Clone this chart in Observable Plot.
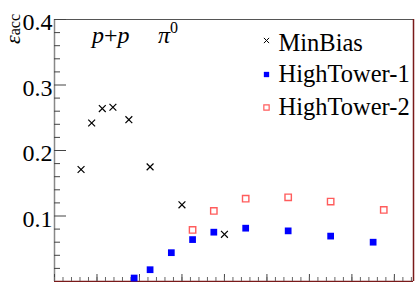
<!DOCTYPE html>
<html>
<head>
<meta charset="utf-8">
<script src="https://cdn.jsdelivr.net/npm/d3@7"></script>
<script src="https://cdn.jsdelivr.net/npm/@observablehq/plot@0.6"></script>
<style>
  html, body { margin: 0; padding: 0; background: #fff; }
  #chart svg { display: block; }
</style>
</head>
<body>
<div id="chart"></div>
<script>
// ---- data (pT bin centres in GeV, acceptance efficiency) ----
const seriesNames = ["MinBias", "HighTower-1", "HighTower-2"];
const ptMinBias = [1.25, 1.75, 2.25, 2.75, 3.5, 4.5, 6, 8];
const effMinBias = [0.171, 0.242, 0.264, 0.266, 0.247, 0.175, 0.117, 0.072];
const ptHT1 = [3.75, 4.5, 5.5, 6.5, 7.5, 9, 11, 13, 15];
const effHT1 = [0.0053, 0.018, 0.044, 0.064, 0.0753, 0.0814, 0.0773, 0.0693, 0.060];
const ptHT2 = [6.5, 7.5, 9, 11, 13, 15.5];
const effHT2 = [0.0788, 0.1078, 0.1265, 0.1286, 0.122, 0.1093];
const yTickLabels = [0.1, 0.2, 0.3, 0.4];
const yMinorTicks = d3.range(0.02, 0.4, 0.02);
const xMajorTicks = d3.range(0, 17, 2);
const xMinorTicks = d3.range(0, 16.9, 0.4);
const xDomain = [0, 16.9];
const yDomain = [0, 0.4];

const mb = ptMinBias.map((x, i) => ({x, y: effMinBias[i]}));
const ht1 = ptHT1.map((x, i) => ({x, y: effHT1[i]}));
const ht2 = ptHT2.map((x, i) => ({x, y: effHT2[i]}));

const serif = "'Liberation Serif', 'DejaVu Serif', serif";
const frameRed = "#7a1a1a";

const legendRows = seriesNames.map((name, i) => ({name, i}));
const legendText = (i, dy) => Plot.text(legendRows.filter(d => d.i === i), {
  frameAnchor: "top-left", lineAnchor: "middle", text: "name", dx: 224, dy,
  textAnchor: "start", fontSize: 24.5, fontFamily: serif, fill: "#000"
});

const svg = Plot.plot({
  width: 415,
  height: 282,
  marginLeft: 54,
  marginTop: 19,
  marginRight: 2,
  marginBottom: 1,
  style: {fontFamily: serif, background: "#fff"},
  x: {domain: xDomain, label: null},
  y: {domain: yDomain, label: null},
  marks: [
    // frame
    Plot.ruleY([yDomain[1]], {stroke: "#555", strokeWidth: 1.2}),
    Plot.ruleY([yDomain[0]], {stroke: frameRed, strokeWidth: 1.5}),
    Plot.ruleX([xDomain[0]], {stroke: "#888", strokeWidth: 1.5}),
    Plot.ruleX([xDomain[1]], {stroke: frameRed, strokeWidth: 1.5}),
    // y axis ticks (inward)
    Plot.axisY({ticks: yTickLabels, tickSize: -12, tickFormat: () => "", stroke: "#444", label: null}),
    Plot.axisY({ticks: yMinorTicks.filter(v => Math.abs(v * 10 - Math.round(v * 10)) > 1e-6), tickSize: -6, tickFormat: () => "", stroke: "#444", label: null}),
    Plot.axisY({ticks: yTickLabels, tickSize: 0, tickPadding: 2, tickFormat: d3.format(".1f"), fontSize: 24, fontFamily: serif, fill: "#000", dy: 3, label: null}),
    // x axis ticks (inward)
    Plot.axisX({ticks: xMajorTicks, tickSize: -7, tickFormat: () => "", stroke: "#444", label: null}),
    Plot.axisX({ticks: xMinorTicks, tickSize: -4, tickFormat: () => "", stroke: "#666", label: null}),
    // data
    Plot.dot(mb, {x: "x", y: "y", symbol: "times", r: 3.2, stroke: "#000", strokeWidth: 1.2}),
    Plot.dot(ht1, {x: "x", y: "y", symbol: "square", r: 3.8, fill: "#0000ff"}),
    Plot.dot(ht2, {x: "x", y: "y", symbol: "square", r: 3.6, fill: "none", stroke: "#ff5c5c", strokeWidth: 1.4}),
    // legend markers
    Plot.dot(legendRows.filter(d => d.i === 0), {frameAnchor: "top-left", dx: 212, dy: 21, symbol: "times", r: 2.5, stroke: "#000", strokeWidth: 1}),
    Plot.dot(legendRows.filter(d => d.i === 1), {frameAnchor: "top-left", dx: 212, dy: 55, symbol: "square", r: 3, fill: "#0000ff"}),
    Plot.dot(legendRows.filter(d => d.i === 2), {frameAnchor: "top-left", dx: 212, dy: 88, symbol: "square", r: 3, fill: "none", stroke: "#ff5c5c", strokeWidth: 1.2}),
    // legend labels
    legendText(0, 24),
    legendText(1, 55),
    legendText(2, 88)
  ]
});

const chart = document.getElementById("chart");
chart.appendChild(svg);
const s = d3.select(svg);

// y-axis title: epsilon_acc
const yl = s.append("text")
  .attr("transform", "translate(20,14) rotate(-90)")
  .attr("text-anchor", "end")
  .attr("font-family", serif)
  .attr("fill", "#000");
yl.append("tspan").attr("font-size", 22).attr("font-style", "italic").text("ε");
yl.append("tspan").attr("font-size", 16).text("acc");

// annotation p+p  pi0
const ann = s.append("text")
  .attr("x", 92).attr("y", 43)
  .attr("text-anchor", "start")
  .attr("font-family", serif)
  .attr("font-size", 24)
  .attr("fill", "#000");
ann.append("tspan").attr("font-style", "italic").text("p");
ann.append("tspan").text("+");
ann.append("tspan").attr("font-style", "italic").text("p");
const ann2 = s.append("text")
  .attr("x", 158).attr("y", 43)
  .attr("text-anchor", "start")
  .attr("font-family", serif)
  .attr("font-size", 24)
  .attr("fill", "#000");
ann2.append("tspan").attr("font-style", "italic").text("π");
ann2.append("tspan").attr("font-size", 16).attr("dy", -10).text("0");
</script>
</body>
</html>
